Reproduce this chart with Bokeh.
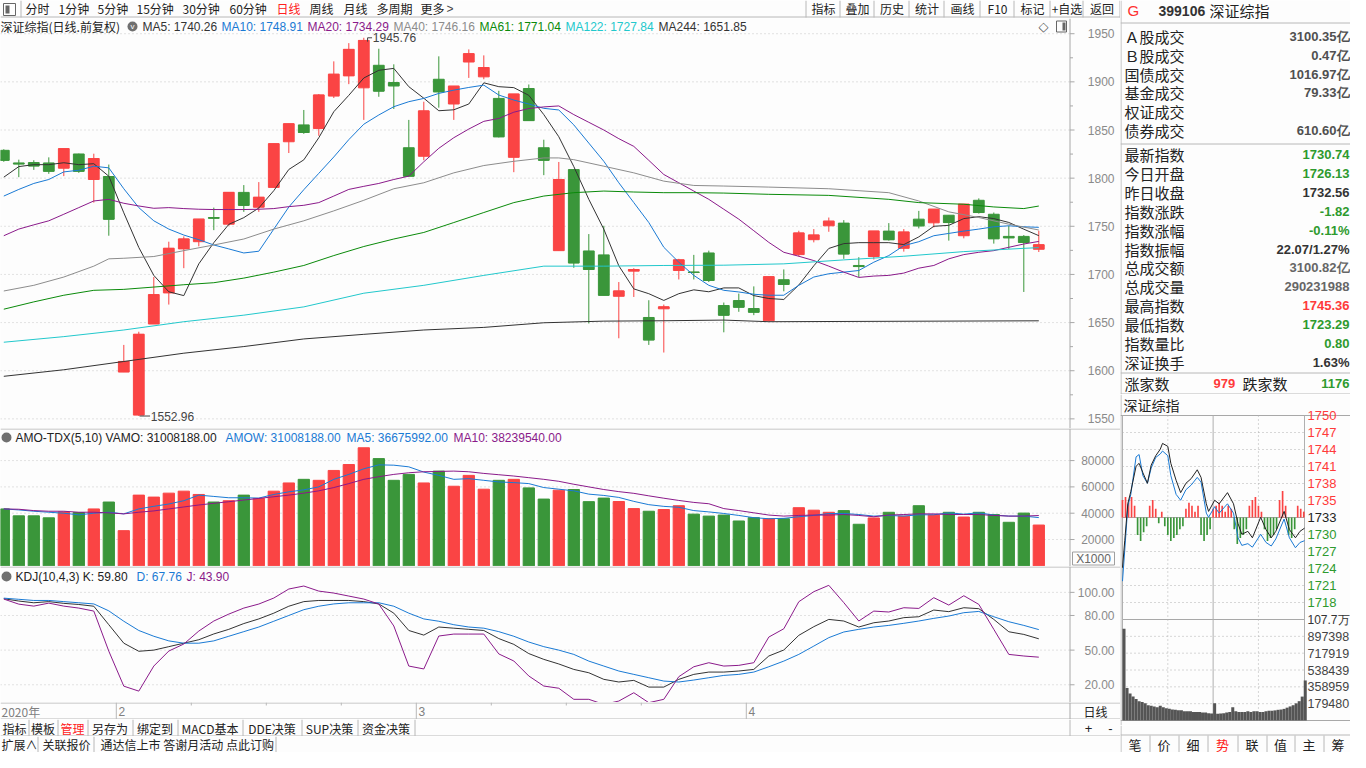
from bokeh.plotting import figure
from bokeh.layouts import column, row
from bokeh.models import Range1d, ColumnDataSource
from bokeh.core.properties import value
from bokeh.embed import file_html
from bokeh.resources import INLINE

# ---------------------------------------------------------------- data
opens = [1828.9, 1815.8, 1816.2, 1815.8, 1810.3, 1825.1, 1798.6, 1801.7, 1598.6, 1553.9,
         1648.5, 1680.8, 1726.5, 1734.0, 1759.1, 1752.2, 1785.2, 1769.8, 1790.4, 1837.8,
         1855.3, 1851.5, 1885.2, 1906.2, 1893.8, 1917.2, 1899.3, 1831.6, 1822.7, 1902.7,
         1877.0, 1920.6, 1905.2, 1882.8, 1821.6, 1893.1, 1831.6, 1724.7, 1808.9, 1724.4,
         1720.3, 1677.3, 1703.4, 1655.3, 1664.3, 1704.1, 1702.6, 1722.3, 1667.7, 1672.9,
         1664.6, 1651.9, 1694.5, 1720.6, 1736.1, 1750.5, 1753.3, 1709.3, 1718.6, 1745.0,
         1727.1, 1757.4, 1753.6, 1761.5, 1740.2, 1777.0, 1762.5, 1739.5, 1739.5, 1726.13]
highs = [1830.0, 1819.2, 1818.6, 1821.6, 1830.6, 1825.5, 1825.4, 1814.1, 1626.8, 1640.5,
         1697.3, 1734.0, 1739.5, 1757.4, 1769.4, 1785.2, 1792.8, 1795.9, 1835.7, 1856.4,
         1870.8, 1887.3, 1921.3, 1940.2, 1945.76, 1934.4, 1918.2, 1860.5, 1879.4, 1926.5,
         1895.5, 1933.7, 1927.5, 1890.7, 1887.3, 1897.3, 1839.9, 1816.8, 1808.9, 1741.9,
         1750.5, 1692.1, 1706.5, 1673.2, 1668.7, 1716.2, 1720.3, 1724.7, 1670.8, 1680.1,
         1687.6, 1697.6, 1705.2, 1745.4, 1747.1, 1759.1, 1756.4, 1717.9, 1745.0, 1753.3,
         1747.1, 1766.0, 1767.7, 1761.5, 1772.9, 1779.0, 1764.3, 1750.5, 1740.9, 1745.36]
lows = [1817.0, 1801.0, 1808.6, 1804.5, 1802.1, 1805.5, 1774.6, 1740.2, 1598.6, 1552.96,
        1648.5, 1668.7, 1706.5, 1729.2, 1746.0, 1750.5, 1765.0, 1765.0, 1790.0, 1826.1,
        1846.0, 1844.0, 1883.2, 1897.6, 1860.5, 1884.5, 1871.8, 1802.1, 1818.6, 1873.2,
        1860.5, 1904.1, 1902.7, 1842.3, 1806.2, 1859.8, 1803.1, 1724.7, 1706.9, 1649.1,
        1678.4, 1633.7, 1676.6, 1626.8, 1618.9, 1694.8, 1694.8, 1692.1, 1639.9, 1661.2,
        1657.7, 1650.9, 1682.5, 1718.6, 1733.3, 1744.3, 1716.2, 1697.3, 1715.5, 1735.1,
        1723.7, 1747.8, 1748.8, 1735.1, 1737.5, 1763.2, 1732.0, 1726.5, 1681.8, 1723.29]
closes = [1818.6, 1814.8, 1812.7, 1807.2, 1830.6, 1807.2, 1820.3, 1757.4, 1609.6, 1637.8,
          1679.0, 1727.1, 1736.8, 1757.4, 1758.4, 1785.2, 1771.8, 1780.1, 1835.7, 1856.4,
          1847.4, 1886.3, 1907.9, 1933.7, 1943.0, 1890.4, 1895.9, 1802.1, 1869.8, 1889.7,
          1895.5, 1929.2, 1914.8, 1843.0, 1887.3, 1859.8, 1818.6, 1798.6, 1712.0, 1705.2,
          1678.4, 1682.8, 1705.1, 1632.0, 1666.3, 1715.1, 1702.0, 1693.8, 1657.7, 1666.0,
          1660.8, 1697.6, 1689.7, 1743.0, 1740.9, 1755.3, 1721.3, 1708.2, 1745.0, 1736.1,
          1744.0, 1750.5, 1767.7, 1753.9, 1772.9, 1764.3, 1737.1, 1738.1, 1733.3, 1730.74]

ma5 = [1801, 1812, 1814, 1814, 1816, 1814, 1815, 1802, 1764, 1728,
       1699, 1682, 1678, 1711, 1733, 1752, 1759, 1769, 1787, 1809,
       1819, 1842, 1869, 1886, 1904, 1912, 1914, 1895, 1883, 1870,
       1871, 1877, 1899, 1895, 1894, 1886, 1866, 1843, 1812, 1778,
       1747, 1709, 1685, 1680, 1673, 1680, 1684, 1682, 1686, 1686,
       1678, 1675, 1674, 1689, 1709, 1727, 1732, 1733, 1733, 1733,
       1731, 1739, 1750, 1751, 1758, 1760, 1758, 1754, 1747, 1740.26]
ma10 = [1781.4, 1788.3, 1794.5, 1798.6, 1806.5, 1808.2, 1812.4, 1810.7, 1789.0, 1769.4,
        1755.7, 1747.1, 1740.9, 1736.1, 1730.6, 1726.5, 1722.3, 1724.1, 1747.1, 1770.0,
        1788.0, 1805.0, 1822.0, 1840.0, 1856.0, 1865.6, 1874.2, 1879.4, 1882.8, 1888.0,
        1891.4, 1894.2, 1896.6, 1886.3, 1881.1, 1877.0, 1872.5, 1870.8, 1855.3, 1836.4,
        1817.5, 1795.2, 1774.6, 1753.9, 1728.2, 1712.7, 1699.0, 1688.7, 1683.5, 1681.8,
        1679.4, 1678.4, 1678.4, 1688.7, 1697.3, 1700.7, 1702.4, 1704.1, 1712.7, 1719.6,
        1729.9, 1734.0, 1740.2, 1742.6, 1745.0, 1747.1, 1749.5, 1750.5, 1749.5, 1748.91]
ma20 = [1740.2, 1747.1, 1751.5, 1755.7, 1762.5, 1769.4, 1776.3, 1778.0, 1773.9, 1771.1,
        1768.7, 1769.4, 1768.4, 1767.7, 1767.4, 1767.4, 1767.4, 1767.7, 1768.4, 1770.4,
        1771.8, 1774.6, 1781.4, 1788.3, 1791.5, 1794.5, 1798.6, 1802.1, 1817.0, 1831.0,
        1842.0, 1851.0, 1859.0, 1862.0, 1868.5, 1872.3, 1874.0, 1875.0, 1866.0, 1858.0,
        1850.0, 1841.0, 1833.0, 1818.5, 1803.8, 1795.2, 1786.6, 1778.0, 1767.7, 1757.4,
        1745.4, 1733.3, 1723.0, 1718.9, 1714.4, 1708.6, 1702.4, 1696.9, 1698.3, 1699.0,
        1701.4, 1706.5, 1709.3, 1716.2, 1720.6, 1723.0, 1724.7, 1728.2, 1731.6, 1734.29]
ma40_x = [0, 2, 4, 6, 7, 8, 10, 12, 14, 16, 18, 20, 22, 24, 26, 28, 30, 32, 34, 36, 37, 38,
          40, 42, 44, 46, 48, 51, 55, 59, 61, 63, 65, 67, 69]
ma40 = [1682.8, 1688.7, 1697.3, 1708.6, 1716.2, 1716.8, 1718.6, 1724.7, 1730.6, 1736.8,
        1747.1, 1755.7, 1766.0, 1777.0, 1789.0, 1795.2, 1805.5, 1813.1, 1817.5, 1821.0,
        1821.0, 1819.2, 1812.4, 1805.5, 1796.9, 1792.4, 1791.8, 1790.7, 1789.0, 1784.9,
        1776.3, 1765.0, 1759.1, 1752.2, 1746.16]
ma61_x = [0, 2, 4, 6, 8, 10, 12, 14, 16, 18, 20, 22, 24, 26, 28, 30, 32, 34, 36, 38, 40,
          42, 44, 46, 48, 51, 55, 59, 61, 64, 66, 68, 69]
ma61 = [1663.9, 1671.5, 1678.4, 1683.5, 1684.5, 1686.9, 1689.3, 1691.4, 1696.2, 1702.4,
        1709.3, 1719.6, 1729.0, 1736.8, 1743.6, 1753.9, 1764.3, 1774.6, 1781.4, 1784.9,
        1786.6, 1785.6, 1784.9, 1784.9, 1784.5, 1783.2, 1782.1, 1778.0, 1774.6, 1772.9,
        1770.1, 1768.4, 1771.04]
ma122_x = [0, 4, 8, 12, 16, 20, 24, 28, 32, 36, 40, 44, 48, 52, 56, 60, 64, 68, 69]
ma122 = [1629.6, 1635.4, 1642.3, 1650.9, 1657.7, 1666.3, 1680.5, 1688.7, 1699.0, 1708.6,
         1708.6, 1709.3, 1709.6, 1711.0, 1715.1, 1718.9, 1723.7, 1727.1, 1727.84]
ma244_x = [0, 4, 8, 12, 16, 20, 24, 28, 32, 36, 40, 44, 48, 51, 69]
ma244 = [1594.2, 1601.0, 1609.6, 1618.2, 1625.1, 1633.0, 1637.8, 1642.3, 1645.0, 1649.8,
         1651.5, 1651.9, 1652.6, 1650.9, 1651.85]

# turnover, in units of 1000
amount = [43250, 38000, 38000, 36500, 41000, 40500, 43250, 48500, 26750, 53750,
          52250, 55250, 56750, 54250, 48500, 49500, 53750, 51250, 56750, 63000,
          65750, 65000, 72500, 77000, 89750, 81500, 65000, 69500, 63000, 72000,
          60500, 68750, 58250, 65000, 65750, 59250, 50750, 57500, 58000, 48800,
          51500, 48900, 43500, 41500, 42800, 45700, 39300, 37800, 38600, 34100,
          36600, 35800, 35800, 44200, 42300, 40700, 42000, 31600, 36400, 40700,
          37800, 45700, 38600, 40700, 37100, 40700, 39000, 33100, 40100, 31008]
amount_ma5 = [43250, 42500, 41500, 40750, 40000, 38750, 40000, 40750, 39500, 43250,
              45250, 47000, 49500, 53750, 52750, 51750, 51750, 51500, 54250, 56250,
              57750, 60000, 65750, 69500, 73750, 76750, 76500, 75250, 71250, 68750,
              65750, 66250, 65000, 63750, 63250, 62500, 59500, 58250, 57000, 54500,
              53500, 52000, 49000, 46500, 45200, 44500, 42000, 41000, 39800, 38300,
              36600, 35800, 36100, 37300, 38300, 39800, 39800, 39000, 37800, 38300,
              37800, 38800, 38800, 40300, 39300, 40300, 38600, 37800, 37800, 36676]
amount_ma10 = [43250, 43000, 42000, 41500, 41500, 40750, 40750, 40250, 39500, 40750,
               41750, 43250, 44750, 46250, 47500, 48750, 50000, 51250, 52500, 53750,
               55250, 57000, 59500, 62500, 65750, 67750, 69500, 70750, 71500, 71750,
               72000, 71500, 70250, 69250, 68250, 67000, 65750, 64250, 62000, 60000,
               58000, 56400, 55100, 53200, 51400, 49700, 48200, 47200, 43500, 42000,
               40300, 38600, 37800, 38300, 38600, 38600, 39000, 38300, 37300, 38600,
               39000, 39500, 39500, 39000, 39000, 39000, 38300, 37800, 37800, 38240]
vamo_last = 31008188.00
amow_last = 31008188.00
amo_ma5_last = 36675992.00
amo_ma10_last = 38239540.00

kdj_k = [94.5, 92.5, 91, 92, 90.5, 89.5, 88, 72, 56, 49,
         50, 53, 56, 59, 64, 68, 73, 77, 82, 88,
         92, 93, 93, 93, 92, 90, 82, 67, 63, 70,
         69, 68, 67, 60, 55, 47, 42, 38, 33.3, 30.4,
         24.7, 22.4, 23.8, 18.0, 18.0, 24.7, 29.0, 31.0, 31.0, 31.9,
         33.3, 44.9, 50.1, 62.8, 70.3, 76.6, 75.2, 70.0, 73.7, 75.2,
         78.1, 78.9, 84.7, 83.3, 86.7, 85.9, 76.6, 65.9, 63.6, 59.8]
kdj_d = [95, 94, 93, 93, 92, 91, 90, 84, 75, 67,
         62, 58, 56, 56, 58, 62, 66, 70, 75, 80,
         85, 88, 90, 91, 91, 91, 88, 82, 77, 75,
         72, 70, 69, 66, 62, 57, 53, 50, 46.3, 40.5,
         36.2, 31.9, 29.0, 26.1, 23.2, 22.4, 24.1, 26.1, 28.1, 29.0,
         31.0, 35.6, 40.5, 46.3, 53.5, 60.8, 65.7, 68.0, 70.0, 71.4,
         73.2, 75.2, 77.5, 79.5, 82.4, 83.5, 78.9, 74.6, 71.4, 67.76]
kdj_j = [94.2, 89.8, 88.1, 90.7, 88.1, 86.4, 83.8, 49.1, 18.8, 14.5,
         36.2, 49.2, 55.3, 66.5, 75.2, 81.2, 86.4, 89.9, 95.1, 102.9,
         105.5, 101.1, 99.4, 96.8, 94.2, 89.9, 70.9, 36.2, 33.7, 62.2,
         63.9, 63.9, 63.9, 46.7, 40.6, 27.6, 18.9, 17.0, 7.4, 7.4,
         3.0, 5.9, 13.1, 4.5, 7.4, 27.0, 35.6, 39.1, 36.2, 36.8,
         39.1, 61.3, 68.5, 91.9, 100.6, 106.1, 91.1, 75.2, 83.8, 83.0,
         86.7, 86.1, 95.4, 89.0, 97.1, 89.6, 68.0, 46.3, 44.9, 43.9]

month_idx = [8, 28, 50]
month_lbl = ["2", "3", "4"]
week_idx = [13, 18, 23, 33, 38, 43]

price_ticks = [1550, 1600, 1650, 1700, 1750, 1800, 1850, 1900, 1950]
price_minor = [1575, 1625, 1675, 1725, 1775, 1825, 1875, 1925]
amount_ticks = [20000, 40000, 60000, 80000]
kdj_ticks = [20, 50, 80, 100]

# intraday (right side)
prev_close = 1732.56
tick_step = 2.9
up_lbls = ["1735", "1738", "1741", "1744", "1747", "1750"]
dn_lbls = ["1730", "1727", "1724", "1721", "1718"]
vol_ticks = [179480, 358959, 538439, 717919, 897398]
vol_top = 1077000
im_min = [0, 3, 7, 11, 18, 22, 27, 33, 38, 44, 50, 53, 60, 64, 71, 77, 84, 91, 99, 104,
          111, 114, 122, 128, 139, 147, 153, 158, 166, 172, 183, 190, 197, 203, 214, 221,
          229, 235, 241]
im_price = [1724.0, 1728.6, 1734.9, 1737.0, 1741.3, 1741.8, 1740.2, 1738.4, 1741.5, 1743.1,
            1744.2, 1745.2, 1744.7, 1741.8, 1738.9, 1736.8, 1738.4, 1739.2, 1740.7, 1739.4,
            1734.9, 1733.6, 1735.5, 1734.9, 1736.8, 1734.9, 1731.5, 1729.7, 1730.2, 1729.1,
            1732.6, 1730.5, 1729.1, 1730.2, 1733.6, 1730.5, 1729.1, 1730.2, 1730.74]
im_avg = [1721.7, 1727.0, 1734.4, 1736.5, 1742.9, 1743.3, 1739.7, 1738.4, 1741.0, 1742.8,
          1743.4, 1743.9, 1743.1, 1739.7, 1736.5, 1735.5, 1737.3, 1738.1, 1739.4, 1738.6,
          1733.3, 1732.6, 1734.4, 1733.3, 1734.9, 1733.3, 1729.1, 1727.8, 1728.1, 1727.5,
          1729.7, 1728.3, 1727.7, 1728.9, 1732.3, 1729.1, 1727.4, 1728.3, 1728.6]
breadth = [3, 3.5, 2.5, 3.5, 2, -3, -4, -2.5, -1.5, 2, 3, 1.5, -1, 1, -1.5,
           -3, -4, -3.5, -3, -2, -1.5, 1.5, 2.5, 2, 1, 2, -3, -4, -3, -2,
           1.5, 2, 2.5, 2, 1, 2, 1.5, -2, -4.5, -3.5, -3, -2, 2, 3, 3.5,
           2, 1, -2, -4, -3.5, -3, -2, 3, 4.5, 2, -3, -3.5, -2, 2, 1.5, 1]
iv = [979000, 346000, 287000, 255000, 228000, 206000, 196000, 183000, 163000, 157000,
      150000, 140000, 157000, 140000, 131000, 124000, 117000, 114000, 108000, 108000,
      98000, 98000, 98000, 91000, 91000, 91000, 85000, 85000, 78000, 75000,
      183000, 72000, 75000, 78000, 85000, 91000, 140000, 98000, 91000, 91000,
      91000, 98000, 91000, 98000, 98000, 91000, 91000, 98000, 104000, 104000,
      108000, 114000, 117000, 124000, 137000, 150000, 163000, 183000, 206000, 255000, 427000]

info_lbl1 = ["Ａ股成交", "Ｂ股成交", "国债成交", "基金成交", "权证成交", "债券成交"]
info_val1 = ["3100.35亿", "0.47亿", "1016.97亿", "79.33亿", "", "610.60亿"]
info_lbl2 = ["最新指数", "今日开盘", "昨日收盘", "指数涨跌", "指数涨幅", "指数振幅",
             "总成交额", "总成交量", "最高指数", "最低指数", "指数量比", "深证换手"]
info_val2 = ["1730.74", "1726.13", "1732.56", "-1.82", "-0.11%", "22.07/1.27%",
             "3100.82亿", "290231988", "1745.36", "1723.29", "0.80", "1.63%"]

# ---------------------------------------------------------------- style
CN = "Noto Sans CJK SC"
NUM = "Liberation Sans"
BG = "#fdfdfd"
UP = "#fa4444"
DN = "#3a963a"
GRIDC = "#c6c6c6"
AXC = "#a8a8a8"
SEP = "#b8b8b8"
TXT = "#222222"
BLUE = "#1a7ad4"
PURP = "#8a1a8a"
GRAYL = "#8c8c8c"
MA61C = "#0a8a0a"
CYAN = "#22c8cc"
VALG = "#2e9a2e"
VALR = "#ff3a3a"
VALD = "#505050"
AXLBL = "#8a8a8a"


def txt(p, x, y, s, color=TXT, size="12px", font=CN, align="left",
        baseline="middle", style="normal", **kw):
    p.text(x=[x], y=[y], text=[s], text_color=color, text_font=value(font),
           text_font_size=size, text_align=align, text_baseline=baseline,
           text_font_style=style, **kw)


def seg(p, x0, y0, x1, y1, color=SEP, width=1, dash="solid", **kw):
    p.segment(x0=x0, y0=y0, x1=x1, y1=y1, line_color=color, line_width=width,
              line_dash=dash, **kw)


def blank(w, h, xr, yr):
    p = figure(width=w, height=h, x_range=xr, y_range=yr,
               output_backend="svg", toolbar_location=None,
               x_axis_location=None, y_axis_location=None, min_border=0)
    p.grid.visible = False
    p.outline_line_color = None
    p.background_fill_color = BG
    p.border_fill_color = BG
    return p


def pixfig(w, h):
    return blank(w, h, Range1d(0, w), Range1d(h, 0))


LW = 1120          # left column width
FW = 1069          # plotting area width (price axis sits right of it)
PPX = 15.0         # pixels per trading day
X0 = -0.22
XR = Range1d(X0, X0 + LW / PPX)


def px2i(px):
    return X0 + px / PPX


AXX = px2i(FW + 0.5)
XEND = X0 + LW / PPX


def panel(h, y0, y1, ticks, labels, minor=(), top_line=True):
    p = blank(LW, h, XR, Range1d(y0, y1))
    n = len(ticks)
    seg(p, [X0] * n, ticks, [px2i(FW)] * n, ticks, color=GRIDC, dash="1 3")
    seg(p, [AXX], [y0], [AXX], [y1], color=AXC)
    seg(p, [AXX] * n, ticks, [px2i(FW + 5)] * n, ticks, color=AXC)
    if minor:
        seg(p, [AXX] * len(minor), list(minor), [px2i(FW + 3.5)] * len(minor), list(minor),
            color=AXC)
    p.text(x=[px2i(1114)] * n, y=ticks, text=labels, text_align="right",
           text_baseline="middle", text_color=AXLBL, text_font=value(NUM),
           text_font_size="12px")
    if top_line:
        yl = y1 - 0.5 * (y1 - y0) / h
        seg(p, [X0], [yl], [XEND], [yl], color="#b4b4b4")
    return p


idx = list(range(len(closes)))
clr = [UP if c >= o else DN for o, c in zip(opens, closes)]
src = ColumnDataSource(dict(
    x=idx, o=opens, h=highs, l=lows, c=closes,
    top=[max(o, c) for o, c in zip(opens, closes)],
    bot=[min(o, c) for o, c in zip(opens, closes)],
    xl=[i - 0.36 for i in idx], xr=[i + 0.36 for i in idx],
    clr=clr, amt=amount))

# ---------------------------------------------------------------- top toolbar
tb = pixfig(LW, 18)
tb.quad(left=[3], right=[15], top=[3], bottom=[15], fill_color=None, line_color="#666666")
tb.quad(left=[5], right=[9], top=[5], bottom=[13], fill_color="#666666", line_color=None)
seg(tb, [20.5], [0], [20.5], [17])
seg(tb, [0], [16.5], [LW], [16.5])
for s, x in [("分时", 25), ("1分钟", 58), ("5分钟", 97), ("15分钟", 136), ("30分钟", 182),
             ("60分钟", 229), ("周线", 309), ("月线", 343), ("多周期", 376), ("更多", 420)]:
    txt(tb, x, 8, s)
txt(tb, 276, 8, "日线", color="#ff2020")
txt(tb, 446, 8, ">", font=NUM, color="#444444")
cells = [806, 840, 874, 909, 944, 980, 1014, 1050, 1083, 1120]
btns = ["指标", "叠加", "历史", "统计", "画线", "F10", "标记", "+自选", "返回"]
seg(tb, [c - 0.5 for c in cells], [0] * len(cells), [c - 0.5 for c in cells], [17] * len(cells))
for a, b, s in zip(cells[:-1], cells[1:], btns):
    txt(tb, (a + b) / 2, 8, s, align="center")

# ---------------------------------------------------------------- main chart
MH = 410
MY1 = 1965.8
MY0 = 1540.0
MPP = MH / (MY1 - MY0)
main = panel(MH, MY0, MY1, price_ticks, [str(t) for t in price_ticks], price_minor,
             top_line=False)
main.segment(x0="x", y0="l", x1="x", y1="h", line_color="clr", line_width=1, source=src)
main.vbar(x="x", width=0.72, top="top", bottom="bot", fill_color="clr",
          line_color="clr", source=src)
main.segment(x0="xl", y0="c", x1="xr", y1="c", line_color="clr", line_width=1, source=src)
main.line(idx, ma5, line_color="#333333", line_width=1)
main.line(idx, ma10, line_color=BLUE, line_width=1)
main.line(idx, ma20, line_color=PURP, line_width=1)
main.line(ma40_x, ma40, line_color=GRAYL, line_width=1)
main.line(ma61_x, ma61, line_color=MA61C, line_width=1)
main.line(ma122_x, ma122, line_color=CYAN, line_width=1)
main.line(ma244_x, ma244, line_color="#333333", line_width=1)
hi_i = highs.index(max(highs))
lo_i = lows.index(min(lows))
seg(main, [hi_i + 0.25], [max(highs)], [hi_i + 0.55], [max(highs)], color="#444444")
seg(main, [hi_i + 0.25], [max(highs)], [hi_i + 0.25], [max(highs) - 4], color="#444444")
txt(main, hi_i + 0.6, max(highs), "%.2f" % max(highs), font=NUM, color="#444444")
seg(main, [lo_i + 0.05], [min(lows)], [lo_i + 0.75], [min(lows)], color="#444444")
txt(main, lo_i + 0.8, min(lows), "%.2f" % min(lows), font=NUM, color="#444444")
TY = MY1 - 8 / MPP
txt(main, px2i(0), TY, "深证综指(日线.前复权)")
main.scatter(x=[px2i(132)], y=[TY], size=10, fill_color="#707070", line_color=None)
txt(main, px2i(132), TY - 0.5, "v", font=NUM, size="8px", color="white", align="center")
for s, x, c in [("MA5: %.2f" % ma5[-1], 142, "#333333"),
                ("MA10: %.2f" % ma10[-1], 221, BLUE),
                ("MA20: %.2f" % ma20[-1], 307, PURP),
                ("MA40: %.2f" % ma40[-1], 393, GRAYL),
                ("MA61: %.2f" % ma61[-1], 479, MA61C),
                ("MA122: %.2f" % ma122[-1], 565, CYAN),
                ("MA244: %.2f" % ma244[-1], 658, "#333333")]:
    txt(main, px2i(x), TY, s, font=NUM, color=c)
txt(main, px2i(1043), TY, "◇", font="DejaVu Sans", size="13px", color="#555555", align="center")
main.quad(left=[px2i(1056)], right=[px2i(1066)], top=[TY + 5.5 / MPP], bottom=[TY - 5.5 / MPP],
          fill_color=None, line_color="#666666")
main.quad(left=[px2i(1062)], right=[px2i(1065)], top=[TY + 4 / MPP], bottom=[TY - 4 / MPP],
          fill_color="#666666", line_color=None)

# ---------------------------------------------------------------- volume panel
VPP = 760.0
VH = 138
VY0 = -500
VY1 = VY0 + VH * VPP
vol = panel(VH, VY0, VY1, amount_ticks, [str(t) for t in amount_ticks])
vol.vbar(x="x", width=0.75, top="amt", bottom=0, fill_color="clr", line_color="clr", source=src)
vol.line(idx, amount_ma5, line_color=BLUE, line_width=1)
vol.line(idx, amount_ma10, line_color=PURP, line_width=1)
VT = VY1 - 9 * VPP
vol.scatter(x=[px2i(6)], y=[VT], size=10, fill_color="#707070", line_color=None)
txt(vol, px2i(15), VT, "AMO-TDX(5,10) VAMO: %.2f" % vamo_last, font=NUM)
txt(vol, px2i(225), VT, "AMOW: %.2f" % amow_last, font=NUM, color=BLUE)
txt(vol, px2i(346), VT, "MA5: %.2f" % amo_ma5_last, font=NUM, color=BLUE)
txt(vol, px2i(453), VT, "MA10: %.2f" % amo_ma10_last, font=NUM, color=PURP)
vol.quad(left=[px2i(FW + 3)], right=[px2i(FW + 45)], bottom=[VY0 + 1.5 * VPP],
         top=[VY0 + 14.5 * VPP], fill_color=BG, line_color="#a0a0a0")
txt(vol, px2i(FW + 24), VY0 + 8 * VPP, "X1000", font=NUM, color="#666666", align="center")

# ---------------------------------------------------------------- KDJ panel
KH = 136
KY1 = 122.4
KY0 = KY1 - KH / 1.155
kdj = panel(KH, KY0, KY1, kdj_ticks, ["%.2f" % t for t in kdj_ticks])
kdj.line(idx, kdj_k, line_color="#333333", line_width=1)
kdj.line(idx, kdj_d, line_color=BLUE, line_width=1)
kdj.line(idx, kdj_j, line_color=PURP, line_width=1)
KT = KY1 - 10 / 1.155
kdj.scatter(x=[px2i(6)], y=[KT], size=10, fill_color="#707070", line_color=None)
txt(kdj, px2i(15), KT, "KDJ(10,4,3) K: %.2f" % kdj_k[-1], font=NUM)
txt(kdj, px2i(136), KT, "D: %.2f" % kdj_d[-1], font=NUM, color=BLUE)
txt(kdj, px2i(186), KT, "J: %.2f" % kdj_j[-1], font=NUM, color=PURP)

# ---------------------------------------------------------------- date row
dr = blank(LW, 17, XR, Range1d(17, 0))
seg(dr, [X0, X0], [0.5, 16.5], [XEND, XEND], [0.5, 16.5])
seg(dr, [AXX], [0], [AXX], [17], color=AXC)
seg(dr, [m - 0.5 for m in month_idx], [0] * 3, [m - 0.5 for m in month_idx], [17] * 3)
seg(dr, [w - 0.5 for w in week_idx], [0] * len(week_idx), [w - 0.5 for w in week_idx],
    [3] * len(week_idx))
for m, s in zip(month_idx, month_lbl):
    txt(dr, m - 0.35, 9, s, font=NUM, color="#808080")
txt(dr, px2i(1), 9, "2020年", color="#808080")
txt(dr, px2i(1095), 9, "日线", align="center")

# ---------------------------------------------------------------- bottom bars
b1 = pixfig(LW, 17)
seg(b1, [0], [16.5], [LW], [16.5])
bc = [0, 28, 57, 87, 132, 177, 242, 301, 357, 414]
bl = ["指标", "模板", "管理", "另存为", "绑定到", "MACD基本", "DDE决策", "SUP决策", "资金决策"]
seg(b1, [c + 0.5 for c in bc[1:]], [0] * 9, [c + 0.5 for c in bc[1:]], [17] * 9)
for a, b, s in zip(bc[:-1], bc[1:], bl):
    txt(b1, (a + b) / 2, 8.5, s, align="center", color="#ff2020" if s == "管理" else TXT)
seg(b1, [FW + 0.5], [0], [FW + 0.5], [17])
txt(b1, 1088, 8.5, "+", font=NUM, size="13px", align="center")
txt(b1, 1110, 8.5, "-", font=NUM, size="13px", align="center")

b2 = pixfig(LW, 16)
seg(b2, [37.5, 93.5, 275.5], [0, 0, 0], [37.5, 93.5, 275.5], [16, 16, 16])
txt(b2, 1, 8, "扩展∧")
txt(b2, 42, 8, "关联报价")
txt(b2, 100, 8, "通达信上市 答谢月活动 点此订购")

left = column(tb, main, vol, kdj, dr, b1, b2, spacing=0)

# ---------------------------------------------------------------- right info
RW = 230
IH_INFO = 394
ri = pixfig(RW, IH_INFO)
seg(ri, [0.5], [0], [0.5], [IH_INFO])
txt(ri, 7, 10, "G", font=NUM, size="15px", color="#ff3030")
txt(ri, 38, 10, "399106", font=NUM, size="14px", style="bold", color="#333333")
txt(ri, 89, 10, "深证综指", size="15px")
seg(ri, [0, 0, 0, 0], [22.5, 143.5, 372.5, 393.5], [RW] * 4, [22.5, 143.5, 372.5, 393.5])
for k, (s, v) in enumerate(zip(info_lbl1, info_val1)):
    y = 36 + k * 18.8
    txt(ri, 4, y, s, size="15px")
    txt(ri, 229, y, v, font=NUM, size="13px", style="bold", color=VALD, align="right")
val2_col = [VALG, VALG, "#333333", VALG, VALG, "#333333", "#666666", "#666666",
            VALR, VALG, VALG, "#333333"]
for k, (s, v, c) in enumerate(zip(info_lbl2, info_val2, val2_col)):
    y = 154 + k * 18.9
    txt(ri, 4, y, s, size="15px")
    txt(ri, 229, y, v, font=NUM, size="13px", style="bold", color=c, align="right")
txt(ri, 4, 383, "涨家数", size="15px")
txt(ri, 93, 383, "979", font=NUM, size="13px", style="bold", color=VALR)
txt(ri, 122, 383, "跌家数", size="15px")
txt(ri, 229, 383, "1176", font=NUM, size="13px", style="bold", color=VALG, align="right")

# ---------------------------------------------------------------- intraday
TH = 27
IH = 752 - IH_INFO - TH
PX_PER_MIN = 182 / 241
IX0 = -2 / PX_PER_MIN
IX1 = IX0 + RW / PX_PER_MIN
TOPP = prev_close + 6 * tick_step
BOTP = prev_close - 6 * tick_step
Y_TOP, Y_MID, Y_BASE = 21, 225, 326
PPP = (Y_MID - Y_TOP) / (TOPP - BOTP)
IY1 = TOPP + Y_TOP / PPP
IY0 = IY1 - IH / PPP
VPX = (Y_BASE - Y_MID) / vol_top
VR1 = vol_top + Y_MID / VPX
VR0 = VR1 - IH / VPX
intr = blank(RW, IH, Range1d(IX0, IX1), Range1d(IY0, IY1))
intr.extra_y_ranges = {"v": Range1d(VR0, VR1)}
VBASE = IY1 - Y_BASE / PPP
seg(intr, [IX0 + 0.5 / PX_PER_MIN], [IY0], [IX0 + 0.5 / PX_PER_MIN], [IY1])
txt(intr, IX0 + 3 / PX_PER_MIN, IY1 - 10 / PPP, "深证综指", size="14px")
lv_up = [prev_close + k * tick_step for k in range(1, 6)]
lv_dn = [prev_close - k * tick_step for k in range(1, 6)]
lv = lv_up + lv_dn
seg(intr, [0] * len(lv), lv, [241] * len(lv), lv, color="#b0b0b0", dash="1 3")
seg(intr, [IX0, 0, 0], [TOPP, BOTP, prev_close], [IX1, 241, 241], [TOPP, BOTP, prev_close],
    color="#a8a8a8")
seg(intr, [IX0], [VBASE], [IX1], [VBASE], color="#a8a8a8")
seg(intr, [0, 120, 241], [VBASE] * 3, [0, 120, 241], [TOPP] * 3, color="#b0b0b0")
seg(intr, [60, 180], [VBASE] * 2, [60, 180], [TOPP] * 2, color="#b0b0b0", dash="1 3")
seg(intr, [0] * 5, vol_ticks, [241] * 5, vol_ticks, color="#b0b0b0", dash="1 3",
    y_range_name="v")
bx = [4 * k for k in range(len(breadth))]
intr.vbar(x=bx, width=2.2, bottom=[prev_close] * len(breadth),
          top=[prev_close + b for b in breadth],
          fill_color=[UP if b > 0 else DN for b in breadth], line_color=None)
intr.line(im_min, im_avg, line_color=BLUE, line_width=1)
intr.line(im_min, im_price, line_color="#222222", line_width=1)
intr.vbar(x=[4 * k + 2 for k in range(len(iv))], width=4, bottom=0, top=iv,
          fill_color="#555555", line_color=None, y_range_name="v")
LX = 241 + 3 / PX_PER_MIN
for y, s in zip(lv_up + [TOPP], up_lbls):
    txt(intr, LX, y, s, font=NUM, size="13px", color=VALR)
txt(intr, LX, prev_close, "1733", font=NUM, size="13px", color="#222222")
for y, s in zip(lv_dn, dn_lbls):
    txt(intr, LX, y, s, font=NUM, size="13px", color=VALG)
txt(intr, LX, BOTP, "107.7万", font=NUM, size="12px", color="#333333")
intr.text(x=[LX] * len(vol_ticks), y=vol_ticks, text=[str(t) for t in vol_ticks],
          text_font=value(NUM), text_font_size="12.5px", text_color="#444444",
          text_baseline="middle", y_range_name="v")

# ---------------------------------------------------------------- tabs
tabs = pixfig(RW, TH)
seg(tabs, [0.5], [0], [0.5], [TH])
seg(tabs, [0], [9.5], [RW], [9.5])
tsep = [29, 58, 87, 117, 146, 174, 203]
seg(tabs, [t + 0.5 for t in tsep], [10] * 7, [t + 0.5 for t in tsep], [TH] * 7)
tlbl = ["笔", "价", "细", "势", "联", "值", "主", "筹"]
tb_edges = [0] + tsep + [232]
for a, b, s in zip(tb_edges[:-1], tb_edges[1:], tlbl):
    txt(tabs, (a + b) / 2, 18.5, s, size="13px", align="center",
        color="#ff2020" if s == "势" else TXT)

right = column(ri, intr, tabs, spacing=0)
layout = row(left, right, spacing=0)

open("out.html", "w").write(file_html(layout, INLINE))
